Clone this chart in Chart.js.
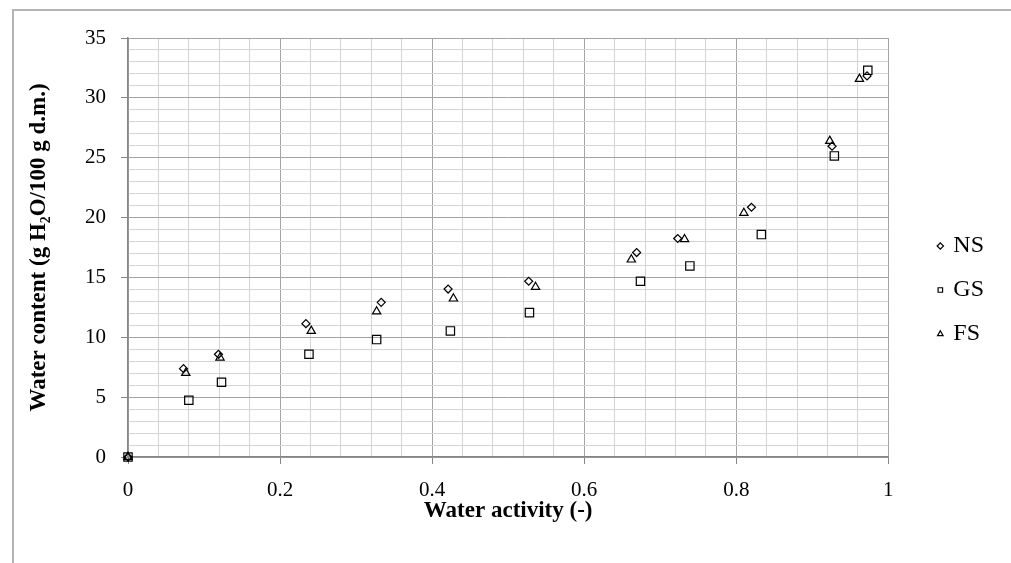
<!DOCTYPE html>
<html>
<head>
<meta charset="utf-8">
<title>Water sorption</title>
<script src="https://cdn.jsdelivr.net/npm/chart.js"></script>
<style>
  html, body { margin: 0; padding: 0; background: #fff; overflow: hidden; }
  #wrap { position: relative; width: 1011px; height: 563px; }
  #frame { position: absolute; left: 12px; top: 9px; width: 1100px; height: 700px;
           border-left: 2px solid #b4b4b4; border-top: 2px solid #b4b4b4; }
  #chart { position: absolute; left: 0; top: 0; }
</style>
</head>
<body>
<div id="wrap">
  <div id="frame"></div>
  <canvas id="chart" width="1011" height="563"></canvas>
</div>
<script>
"use strict";
// data
const activityNS = [0, 0.073, 0.119, 0.234, 0.333, 0.421, 0.527, 0.669, 0.723, 0.820, 0.926, 0.972];
const contentNS  = [0, 7.38, 8.58, 11.14, 12.92, 14.03, 14.68, 17.08, 18.25, 20.86, 25.96, 31.83];

const activityGS = [0, 0.080, 0.123, 0.238, 0.327, 0.424, 0.528, 0.674, 0.739, 0.833, 0.929, 0.973];
const contentGS  = [0, 4.74, 6.24, 8.58, 9.81, 10.53, 12.06, 14.68, 15.96, 18.58, 25.15, 32.3];

const activityFS = [0, 0.076, 0.121, 0.241, 0.327, 0.428, 0.536, 0.662, 0.732, 0.810, 0.923, 0.962];
const contentFS  = [0, 7.02, 8.30, 10.53, 12.15, 13.23, 14.2, 16.49, 18.19, 20.38, 26.4, 31.58];

const seriesNames = ["NS", "GS", "FS"];

const serif = "'Liberation Serif', 'Times New Roman', serif";
const majorGrid = "#a3a3a3";
const minorGrid = "#d4d4d4";

const toPoints = (xs, ys) => xs.map((x, i) => ({ x: x, y: ys[i] }));
const isMajor = (value, step) => Math.abs(value / step - Math.round(value / step)) < 1e-6;

const serie = (label, xs, ys, style, radius) => ({
  label: label,
  data: toPoints(xs, ys),
  pointStyle: style,
  pointRadius: radius,
  pointHoverRadius: radius,
  borderColor: "#000",
  backgroundColor: "rgba(255,255,255,0)",
  borderWidth: 1.2,
  showLine: false,
  clip: false,
});

new Chart(document.getElementById("chart"), {
  type: "scatter",
  data: {
    datasets: [
      serie(seriesNames[0], activityNS, contentNS, "rectRot", 4),
      serie(seriesNames[1], activityGS, contentGS, "rect", 5.9),
      serie(seriesNames[2], activityFS, contentFS, "triangle", 4.8),
    ],
  },
  options: {
    responsive: false,
    animation: false,
    layout: { padding: { left: 13, top: 38, right: 17, bottom: 21 } },
    plugins: {
      tooltip: { enabled: false },
      legend: {
        position: "right",
        align: "center",
        labels: {
          usePointStyle: true,
          boxWidth: 2,
          boxHeight: 4.5,
          padding: 20,
          color: "#000",
          font: { family: serif, size: 24 },
        },
      },
    },
    scales: {
      x: {
        type: "linear",
        min: 0,
        max: 1,
        afterFit: (s) => { s.height = 85; },
        ticks: {
          stepSize: 0.04,
          autoSkip: false,
          maxRotation: 0,
          padding: 14,
          color: "#000",
          font: { family: serif, size: 21 },
          callback: (v) => isMajor(v, 0.2) ? String(Math.round(v * 10) / 10) : "",
        },
        grid: {
          lineWidth: 1,
          tickLength: 7,
          color: (c) => isMajor(c.tick.value, 0.2) ? majorGrid : minorGrid,
          tickColor: (c) => isMajor(c.tick.value, 0.2) ? "#868686" : "rgba(0,0,0,0)",
        },
        border: { color: "#868686", width: 1.5 },
        title: {
          display: true,
          text: "Water activity (-)",
          color: "#000",
          font: { family: serif, size: 23, weight: "bold" },
          padding: { top: 0, bottom: 17 },
        },
      },
      y: {
        type: "linear",
        min: 0,
        max: 35,
        afterFit: (s) => { s.width = 115; },
        ticks: {
          stepSize: 1,
          autoSkip: false,
          padding: 15,
          color: "#000",
          font: { family: serif, size: 21 },
          callback: (v) => isMajor(v, 5) ? String(Math.round(v)) : "",
        },
        grid: {
          lineWidth: 1,
          tickLength: 7,
          color: (c) => isMajor(c.tick.value, 5) ? majorGrid : minorGrid,
          tickColor: (c) => isMajor(c.tick.value, 5) ? "#868686" : "rgba(0,0,0,0)",
        },
        border: { color: "#868686", width: 1.5 },
        title: {
          display: true,
          text: "Water content (g H\u2082O/100 g d.m.)",
          color: "#000",
          font: { family: serif, size: 23, weight: "bold" },
          padding: { top: 12, bottom: 0 },
        },
      },
      // empty axis, only keeps the legend away from the plot
      gap: {
        type: "linear",
        position: "right",
        afterFit: (s) => { s.width = 31; },
        ticks: { display: false },
        grid: { display: false },
        border: { display: false },
      },
    },
  },
});
</script>
</body>
</html>
